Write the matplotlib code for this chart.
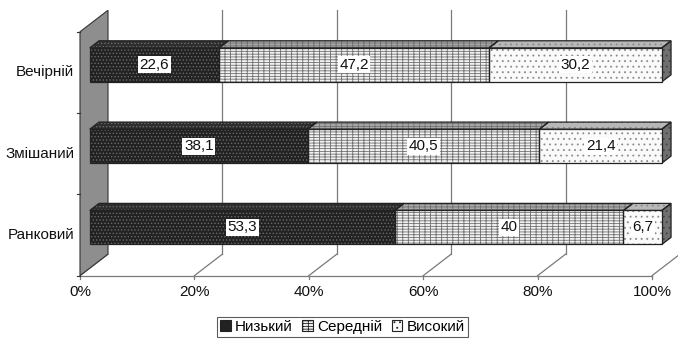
import matplotlib
matplotlib.use("Agg")
import matplotlib.pyplot as plt
from matplotlib.patches import Polygon, Patch

plt.rcParams['font.family'] = ['Liberation Sans', 'DejaVu Sans']
plt.rcParams['hatch.linewidth'] = 0.6

categories = ['Ранковий', 'Змішаний', 'Вечірній']
series_names = ['Низький', 'Середній', 'Високий']
low = [53.3, 38.1, 22.6]
mid = [40.0, 40.5, 47.2]
high = [6.7, 21.4, 30.2]
xticks = [0, 20, 40, 60, 80, 100]

series = [low, mid, high]
face = ['#222222', '#f2f2f2', '#fafafa']
hcol = ['#6a6a6a', '#707070', '#8a8a8a']
hatches = ['.....', '------|||', '...']
topface = ['#2e2e2e', '#a8a8a8', '#b8b8b8']
FS = 11

W, H = 678, 340
fig = plt.figure(figsize=(W / 100, H / 100), dpi=100)
ax = fig.add_axes([0, 0, 1, 1])
sx = 5.72      # px per percent
sy = 81.3      # px per category
x0px, y0px = 80, 235
ax.set_xlim((0 - x0px) / sx, (W - x0px) / sx)
ax.set_ylim((y0px - H) / sy, y0px / sy)
ax.axis('off')

DX = 28 / sx
DY = 21.5 / sy
d0, d1 = 0.35, 0.68
bh = 34 / sy
n = len(categories)
ybot, ytop = -0.5, n - 0.5
grid = '#7a7a7a'

# left wall
ax.add_patch(Polygon([(0, ybot), (0, ytop), (DX, ytop + DY), (DX, ybot + DY)],
                     closed=True, facecolor='#8e8e8e', edgecolor='#333333', lw=0.8, zorder=1))
# back wall gridlines
for t in xticks[1:]:
    ax.plot([t + DX, t + DX], [ybot + DY, ytop + DY], color=grid, lw=0.9, zorder=0.5)
# floor
ax.plot([0, 100], [ybot, ybot], color=grid, lw=0.9, zorder=0.5)
for t in xticks:
    ax.plot([t, t + DX], [ybot, ybot + DY], color=grid, lw=0.9, zorder=0.5)
    ax.plot([t, t], [ybot, ybot - 3 / sy], color=grid, lw=0.9, zorder=0.5)
    ax.text(t, ybot - 16 / sy, f'{t}%', ha='center', va='center', fontsize=FS, color='#111111')
# category ticks & labels
for k in range(n + 1):
    ax.plot([-3 / sx, 0], [ybot + k, ybot + k], color='#333333', lw=0.8, zorder=1)
for i, c in enumerate(categories):
    ax.text(-6 / sx, i, c, ha='right', va='center', fontsize=FS, color='#111111')

# bars
for i in range(n):
    yc = i + d0 * DY
    left = 0
    for s in range(len(series)):
        v = series[s][i]
        ax.barh(yc, v, left=left + d0 * DX, height=bh, color=face[s], hatch=hatches[s],
                edgecolor=hcol[s], lw=0, zorder=3)
        ax.barh(yc, v, left=left + d0 * DX, height=bh, fill=False, edgecolor='#222222',
                lw=0.9, zorder=3.2)
        yt = yc + bh / 2
        dd = (d1 - d0)
        top = Polygon([(left + d0 * DX, yt), (left + v + d0 * DX, yt),
                       (left + v + d1 * DX, yt + dd * DY), (left + d1 * DX, yt + dd * DY)],
                      closed=True, facecolor=topface[s], hatch=hatches[s], edgecolor=hcol[s],
                      lw=0, zorder=2.8)
        ax.add_patch(top)
        ax.add_patch(Polygon(top.get_xy(), closed=True, fill=False, edgecolor='#222222',
                             lw=0.9, zorder=2.9))
        txt = (f'{v:.1f}'.rstrip('0').rstrip('.')).replace('.', ',')
        ax.text(left + v / 2 + d0 * DX, yc, txt, ha='center', va='center', fontsize=FS,
                color='#111111', zorder=5,
                bbox=dict(boxstyle='square,pad=0.1', facecolor='white', edgecolor='none'))
        left += v
    # right end face
    ex = left + d0 * DX
    yb = yc - bh / 2
    yt = yc + bh / 2
    dd = (d1 - d0)
    ax.add_patch(Polygon([(ex, yb), (ex, yt), (ex + dd * DX, yt + dd * DY), (ex + dd * DX, yb + dd * DY)],
                         closed=True, facecolor='#707070', hatch='...', edgecolor='#444444',
                         lw=0, zorder=2.8))
    ax.add_patch(Polygon([(ex, yb), (ex, yt), (ex + dd * DX, yt + dd * DY), (ex + dd * DX, yb + dd * DY)],
                         closed=True, fill=False, edgecolor='#222222', lw=0.9, zorder=2.9))

handles = [Patch(facecolor=face[s], hatch=hatches[s], edgecolor='#222222', lw=0.8)
           for s in range(len(series))]
leg = fig.legend(handles, series_names, loc='center', bbox_to_anchor=(0.505, 1 - 327 / H),
                 ncol=3, fontsize=FS, frameon=True, fancybox=False, edgecolor='#333333',
                 handlelength=0.7, handleheight=0.7, handletextpad=0.3, columnspacing=0.6,
                 borderpad=0.2, borderaxespad=0)
leg.get_frame().set_linewidth(0.8)

fig.savefig('out.png', dpi=100)
